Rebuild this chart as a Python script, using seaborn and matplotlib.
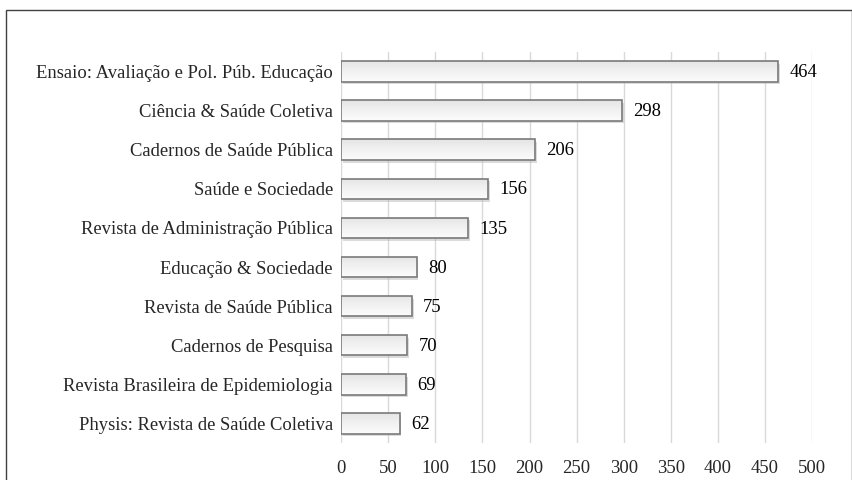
import seaborn as sns
import matplotlib.pyplot as plt
import matplotlib.patches as mpatches
import numpy as np
import pandas as pd

journals = [
    "Ensaio: Avaliação e Pol. Púb. Educação",
    "Ciência & Saúde Coletiva",
    "Cadernos de Saúde Pública",
    "Saúde e Sociedade",
    "Revista de Administração Pública",
    "Educação & Sociedade",
    "Revista de Saúde Pública",
    "Cadernos de Pesquisa",
    "Revista Brasileira de Epidemiologia",
    "Physis: Revista de Saúde Coletiva",
]
counts = [464, 298, 206, 156, 135, 80, 75, 70, 69, 62]
xticks = [0, 50, 100, 150, 200, 250, 300, 350, 400, 450, 500]

sns.set_style('white')
plt.rcParams['font.family'] = ['Liberation Serif', 'DejaVu Serif']
FS = 13.4

df = pd.DataFrame({'journal': journals, 'count': counts})

fig = plt.figure(figsize=(8.53, 4.8), dpi=100)
ax = fig.add_axes([0.400, 0.077, 0.552, 0.815])

# shadow under bars
sns.barplot(data=df, x='count', y='journal', orient='h', ax=ax,
            color='#b0b0b0', width=0.52, edgecolor='none', zorder=2)
for p in ax.patches:
    p.set_x(p.get_x() + 2)
    p.set_y(p.get_y() + 0.07)
    p.set_alpha(0.45)
n_shadow = len(ax.patches)

sns.barplot(data=df, x='count', y='journal', orient='h', ax=ax,
            color='#ececec', width=0.52, edgecolor='#7a7a7a', linewidth=1.2,
            zorder=4)

# light vertical gradient inside each bar
grad = np.linspace(0, 1, 64).reshape(-1, 1)
for p, v in zip(ax.patches[n_shadow:], counts):
    x0, y0, w, h = p.get_x(), p.get_y(), p.get_width(), p.get_height()
    im = ax.imshow(grad, cmap='Greys', vmin=-0.2, vmax=6.0, aspect='auto',
                   extent=(x0, x0 + w, y0, y0 + h), origin='upper',
                   zorder=3, interpolation='bilinear')
    im.set_clip_path(p)
    p.set_facecolor('none')
    ax.text(x0 + w + 12, y0 + h / 2 + 0.03, str(v),
            va='center', ha='left', fontsize=FS, color='black')

ax.set_xlim(0, 500)
ax.set_ylim(9.5, -0.5)
ax.set_xticks(xticks)
ax.set_xticklabels([str(t) for t in xticks], fontsize=FS)
ax.tick_params(axis='y', labelsize=FS, length=0, pad=6)
ax.tick_params(axis='x', length=0, pad=12)
ax.set_xlabel('')
ax.set_ylabel('')
ax.xaxis.grid(True, color='#d9d9d9', linewidth=1)
ax.set_axisbelow(True)
for s in ax.spines.values():
    s.set_visible(False)

fig.patches.append(mpatches.Rectangle((0.007, -0.01), 0.992, 0.99,
                                      transform=fig.transFigure,
                                      fill=False, edgecolor='#404040',
                                      linewidth=1))

fig.savefig('out.png', dpi=100)
